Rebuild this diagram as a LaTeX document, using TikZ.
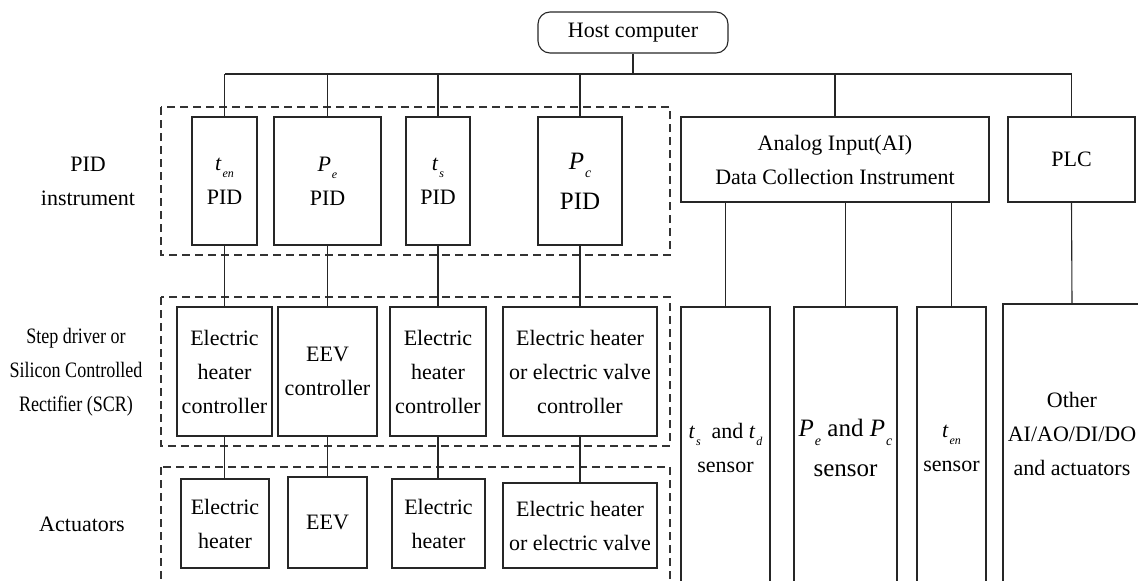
\documentclass[tikz,border=0pt]{standalone}
\usepackage{fontspec}
\setmainfont{Liberation Serif}
\newfontfamily\narrowserif[FakeStretch=0.82]{Liberation Serif}
\newcommand{\mainsize}{\fontsize{22}{34}\selectfont}
\newcommand{\bigsize}{\fontsize{25}{40}\selectfont}
% italic symbol with an italic subscript
\newcommand{\isub}[2]{\textit{#1}\kern0.04em\raisebox{-0.32em}{\fontsize{12}{12}\selectfont\textit{#2}}}
\newcommand{\bsub}[2]{\textit{#1}\kern0.04em\raisebox{-0.34em}{\fontsize{14}{14}\selectfont\textit{#2}}}
\tikzset{
  wire/.style={draw=black!85, line width=1.1pt},
  blk/.style={draw=black!85, line width=1.1pt, inner sep=0pt, align=center, font=\mainsize},
  grp/.style={draw=black!80, line width=1.1pt, dash pattern=on 8pt off 5pt},
  side/.style={align=center, font=\mainsize, inner sep=0pt},
  txt/.style={align=center, font=\mainsize, inner sep=0pt},
}
\begin{document}
\begin{tikzpicture}[x=1pt, y=-1pt]
\useasboundingbox (0,0) rectangle (1138,581);
\clip (0,0) rectangle (1138,581);

% host and top bus
\node[blk, rounded corners=12pt, minimum width=190pt, minimum height=41pt] (host) at (633,32.5) {Host computer};
\coordinate (busL) at (225,74);
\coordinate (busR) at (1072,74);

% group frames
\draw[grp] (161,107) rectangle (670,255);
\draw[grp] (161,297) rectangle (670,446);
\draw[grp] (161,467) rectangle (670,600);

% row labels
\node[side] (lpid) at (88,181) {PID\\instrument};
\node[side, font=\mainsize\narrowserif] (lscr) at (76,372) {Step driver or\\Silicon Controlled\\Rectifier (SCR)};
\node[side] (lact) at (82,524) {Actuators};

% PID instruments
\node[blk, minimum width=65pt, minimum height=128pt] (pten) at (224.5,181) {\isub{t}{en}\\PID};
\node[blk, minimum width=107pt, minimum height=128pt] (ppe) at (327.5,181) {\isub{P}{e}\\PID};
\node[blk, minimum width=64pt, minimum height=128pt] (pts) at (438,181) {\isub{t}{s}\\PID};
\node[blk, minimum width=84pt, minimum height=128pt, font=\bigsize] (ppc) at (580,181) {\bsub{P}{c}\\PID};

% data collection and PLC
\node[blk, minimum width=308pt, minimum height=85pt] (ai) at (835,159.5) {Analog Input(AI)\\Data Collection Instrument};
\node[blk, minimum width=127pt, minimum height=85pt] (plc) at (1071.5,159.5) {PLC};

% drivers
\node[blk, minimum width=95pt, minimum height=129pt] (c1) at (224.5,371.5) {Electric\\heater\\controller};
\node[blk, minimum width=99pt, minimum height=129pt] (c2) at (327.5,371.5) {EEV\\controller};
\node[blk, minimum width=96pt, minimum height=129pt] (c3) at (438,371.5) {Electric\\heater\\controller};
\node[blk, minimum width=154pt, minimum height=129pt] (c4) at (580,371.5) {Electric heater\\or electric valve\\controller};

% actuators
\node[blk, minimum width=88pt, minimum height=89pt] (a1) at (225,523.5) {Electric\\heater};
\node[blk, minimum width=79pt, minimum height=91pt] (a2) at (327.5,522.5) {EEV};
\node[blk, minimum width=93pt, minimum height=89pt] (a3) at (438.5,523.5) {Electric\\heater};
\node[blk, minimum width=154pt, minimum height=85pt] (a4) at (580,525.5) {Electric heater\\or electric valve};

% sensors and other I/O
\node[blk, minimum width=89pt, minimum height=282pt] (s1) at (725.5,448) {\isub{t}{s}\ \ and \isub{t}{d}\\sensor};
\node[blk, minimum width=103pt, minimum height=282pt, font=\bigsize] (s2) at (845.5,448) {\bsub{P}{e}\ and \bsub{P}{c}\\sensor};
\node[blk, minimum width=69pt, minimum height=282pt] (s3) at (951.5,448) {\isub{t}{en}\\sensor};
\node[blk, minimum width=138pt, minimum height=300pt] (s4) at (1072,454) {};
\node[txt] (s4t) at (1072,434) {Other\\AI/AO/DI/DO\\and actuators};

% connectors
\draw[wire] (host.south) -- (host.south |- busL);
\draw[wire] (busL) -- (busR);
\foreach \n in {pten,ppe,pts,ppc,ai,plc}
  \draw[wire] (\n.north) -- (\n.north |- busL);
\draw[wire] (pten.south) -- (c1.north);
\draw[wire] (ppe.south) -- (c2.north);
\draw[wire] (pts.south) -- (c3.north);
\draw[wire] (ppc.south) -- (c4.north);
\draw[wire] (c1.south) -- (c1.south |- a1.north);
\draw[wire] (c2.south) -- (c2.south |- a2.north);
\draw[wire] (c3.south) -- (c3.south |- a3.north);
\draw[wire] (c4.south) -- (c4.south |- a4.north);
\foreach \n in {s1,s2,s3}
  \draw[wire] (\n.north) -- (\n.north |- ai.south);
\draw[wire] (plc.south) -- (s4.north);
\end{tikzpicture}
\end{document}
